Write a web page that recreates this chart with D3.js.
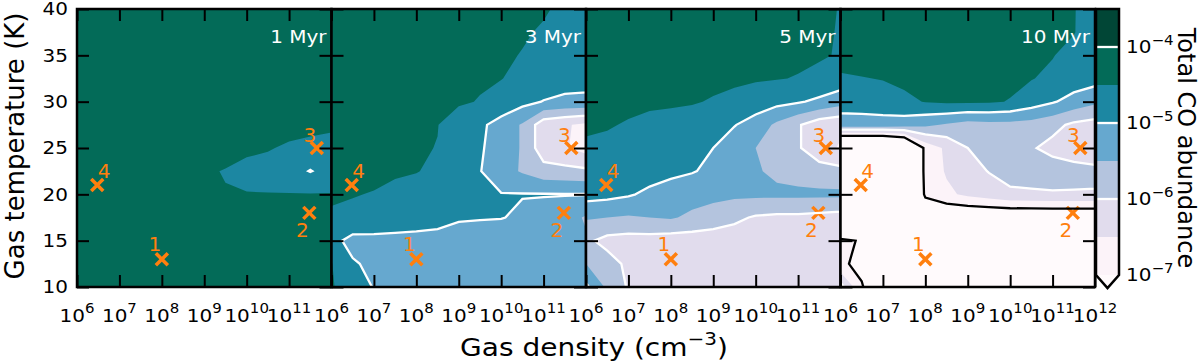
<!DOCTYPE html>
<html>

<head>
    <title>Total CO abundance maps</title>
    <script src="https://d3js.org/d3.v7.min.js"></script>
    <style>
        body { margin: 0; background: #fff; }
        text { font-family: "DejaVu Sans", sans-serif; }
    </style>
</head>

<body>
    <script type="text/javascript">

        // grid the abundance maps were read on
        var logDensity = [6, 6.5, 7, 7.5, 8, 8.5, 9, 9.5, 10, 10.5, 11, 11.5, 12];
        var gasTemp = [40, 37.5, 35, 32.5, 30, 27.5, 25, 22.5, 20, 17.5, 15, 12.5, 10];

        // log10 of total CO abundance, one row per temperature (first row = 40 K)
        var co1Myr = [
            [-4.2, -4.2, -4.2, -4.2, -4.2, -4.2, -4.2, -4.2, -4.2, -4.2, -4.2, -4.2, -4.2],
            [-4.2, -4.2, -4.2, -4.2, -4.2, -4.2, -4.2, -4.2, -4.2, -4.2, -4.2, -4.2, -4.2],
            [-4.2, -4.2, -4.2, -4.2, -4.2, -4.2, -4.2, -4.2, -4.2, -4.2, -4.2, -4.2, -4.2],
            [-4.2, -4.2, -4.2, -4.2, -4.2, -4.2, -4.2, -4.2, -4.2, -4.2, -4.2, -4.2, -4.2],
            [-4.2, -4.2, -4.2, -4.2, -4.2, -4.2, -4.2, -4.2, -4.2, -4.2, -4.2, -4.25, -4.3],
            [-4.25, -4.25, -4.25, -4.25, -4.25, -4.25, -4.25, -4.25, -4.25, -4.25, -4.25, -4.35, -4.4],
            [-4.3, -4.3, -4.3, -4.3, -4.3, -4.3, -4.35, -4.35, -4.4, -4.45, -4.6, -4.65, -4.7],
            [-4.3, -4.3, -4.3, -4.3, -4.3, -4.3, -4.45, -4.52, -4.65, -4.75, -4.8, -5.02, -4.8],
            [-4.3, -4.3, -4.3, -4.3, -4.3, -4.3, -4.4, -4.48, -4.48, -4.48, -4.48, -4.48, -4.48],
            [-4.25, -4.25, -4.25, -4.25, -4.25, -4.25, -4.25, -4.25, -4.25, -4.25, -4.25, -4.25, -4.25],
            [-4.25, -4.25, -4.25, -4.25, -4.25, -4.25, -4.25, -4.25, -4.25, -4.25, -4.25, -4.25, -4.25],
            [-4.25, -4.25, -4.25, -4.25, -4.25, -4.25, -4.25, -4.25, -4.25, -4.25, -4.25, -4.25, -4.25],
            [-4.25, -4.25, -4.25, -4.25, -4.25, -4.25, -4.25, -4.25, -4.25, -4.25, -4.25, -4.25, -4.25]
        ];
        var co3Myr = [
            [-4.2, -4.2, -4.2, -4.2, -4.2, -4.2, -4.25, -4.3, -4.35, -4.4, -4.45, -4.6, -4.7],
            [-4.2, -4.2, -4.2, -4.2, -4.2, -4.25, -4.3, -4.35, -4.4, -4.45, -4.55, -4.65, -4.75],
            [-4.2, -4.2, -4.2, -4.25, -4.25, -4.3, -4.35, -4.4, -4.43, -4.52, -4.65, -4.75, -4.8],
            [-4.2, -4.2, -4.25, -4.3, -4.3, -4.35, -4.4, -4.45, -4.49, -4.6, -4.7, -4.8, -4.85],
            [-4.25, -4.25, -4.3, -4.3, -4.35, -4.4, -4.45, -4.52, -4.65, -4.85, -5.02, -5.1, -5.1],
            [-4.3, -4.3, -4.35, -4.4, -4.45, -4.49, -4.7, -4.9, -5.2, -5.55, -6.3, -6.45, -6.6],
            [-4.3, -4.3, -4.35, -4.4, -4.46, -4.51, -4.75, -4.95, -5.2, -5.55, -6.3, -6.45, -6.7],
            [-4.35, -4.35, -4.4, -4.45, -4.48, -4.6, -4.8, -4.98, -5.3, -5.55, -5.8, -5.85, -5.9],
            [-4.45, -4.48, -4.52, -4.6, -4.7, -4.8, -4.9, -4.96, -4.98, -4.98, -4.98, -4.98, -4.98],
            [-4.55, -4.6, -4.75, -4.8, -4.85, -4.9, -4.93, -4.96, -4.98, -5.08, -5.15, -5.3, -5.55],
            [-4.85, -5.15, -5.1, -5.1, -5.1, -5.1, -5.3, -5.3, -5.3, -5.3, -5.35, -5.4, -5.45],
            [-4.48, -4.95, -5.1, -5.2, -5.25, -5.25, -5.3, -5.3, -5.3, -5.3, -5.35, -5.35, -5.4],
            [-4.45, -4.8, -5.02, -5.2, -5.25, -5.25, -5.3, -5.3, -5.3, -5.3, -5.35, -5.35, -5.4]
        ];
        var co5Myr = [
            [-4.2, -4.2, -4.2, -4.2, -4.2, -4.2, -4.2, -4.2, -4.25, -4.3, -4.35, -4.4, -4.52],
            [-4.2, -4.2, -4.2, -4.2, -4.2, -4.2, -4.2, -4.25, -4.3, -4.35, -4.4, -4.45, -4.52],
            [-4.2, -4.2, -4.2, -4.2, -4.2, -4.25, -4.3, -4.3, -4.35, -4.4, -4.42, -4.46, -4.53],
            [-4.2, -4.2, -4.25, -4.25, -4.3, -4.3, -4.35, -4.4, -4.45, -4.48, -4.52, -4.6, -4.7],
            [-4.3, -4.3, -4.35, -4.4, -4.42, -4.45, -4.55, -4.65, -4.75, -4.85, -4.95, -5.1, -5.3],
            [-4.4, -4.45, -4.55, -4.65, -4.7, -4.8, -4.9, -4.98, -5.2, -5.6, -5.95, -6.3, -6.4],
            [-4.6, -4.65, -4.7, -4.75, -4.8, -4.9, -5.0, -5.25, -5.5, -5.6, -5.95, -6.3, -6.55],
            [-4.7, -4.72, -4.75, -4.8, -4.9, -4.97, -5.1, -5.3, -5.45, -5.6, -5.7, -5.8, -5.85],
            [-4.8, -4.85, -4.95, -5.1, -5.2, -5.3, -5.35, -5.4, -5.4, -5.4, -5.4, -5.4, -5.4],
            [-5.45, -5.5, -5.55, -5.5, -5.45, -5.6, -5.75, -5.9, -6.05, -6.1, -6.1, -6.15, -6.2],
            [-5.9, -6.15, -6.2, -6.2, -6.25, -6.25, -6.25, -6.25, -6.25, -6.25, -6.3, -6.3, -6.3],
            [-5.5, -5.8, -6.1, -6.25, -6.25, -6.25, -6.25, -6.25, -6.25, -6.25, -6.3, -6.3, -6.3],
            [-4.9, -5.6, -6.05, -6.2, -6.25, -6.25, -6.25, -6.25, -6.25, -6.25, -6.3, -6.3, -6.3]
        ];
        var co10Myr = [
            [-4.2, -4.2, -4.2, -4.2, -4.2, -4.2, -4.2, -4.2, -4.2, -4.25, -4.3, -4.48, -4.7],
            [-4.2, -4.2, -4.2, -4.2, -4.2, -4.2, -4.2, -4.2, -4.25, -4.3, -4.35, -4.48, -4.75],
            [-4.35, -4.3, -4.25, -4.2, -4.2, -4.2, -4.2, -4.25, -4.3, -4.35, -4.48, -4.65, -4.8],
            [-4.55, -4.52, -4.48, -4.4, -4.35, -4.35, -4.35, -4.35, -4.4, -4.48, -4.6, -4.7, -4.8],
            [-4.8, -4.78, -4.72, -4.6, -4.48, -4.42, -4.42, -4.45, -4.52, -4.75, -4.95, -5.2, -5.4],
            [-5.2, -5.2, -5.2, -5.25, -5.4, -5.55, -5.7, -5.65, -5.65, -5.7, -5.85, -6.1, -6.2],
            [-9, -9, -9, -8.5, -6.85, -6.4, -6.0, -5.8, -5.75, -5.95, -6.15, -6.3, -6.4],
            [-9, -9, -9, -8.5, -6.85, -6.45, -6.2, -5.98, -5.8, -5.75, -5.75, -5.8, -5.85],
            [-9, -9, -9, -8.5, -6.9, -6.6, -6.4, -6.25, -6.1, -6.08, -6.05, -6.05, -6.05],
            [-7.6, -7.6, -7.6, -7.6, -7.6, -7.6, -7.6, -7.6, -7.6, -7.6, -7.6, -7.6, -7.6],
            [-6.95, -7.02, -7.6, -7.6, -7.6, -7.6, -7.6, -7.6, -7.6, -7.6, -7.6, -7.6, -7.6],
            [-6.9, -7.15, -7.6, -7.6, -7.6, -7.6, -7.6, -7.6, -7.6, -7.6, -7.6, -7.6, -7.6],
            [-5.8, -6.95, -7.6, -7.6, -7.6, -7.6, -7.6, -7.6, -7.6, -7.6, -7.6, -7.6, -7.6]
        ];
        var panelTimes = ["1 Myr", "3 Myr", "5 Myr", "10 Myr"];
        var panelMaps = [co1Myr, co3Myr, co5Myr, co10Myr];

        // contour levels (log10 abundance)
        var fillLevels = [-7, -6.5, -6, -5.5, -5, -4.5, -4, -3.5];
        var whiteLevels = [-6, -5, -4];
        var blackLevels = [-7];
        var cbTickExp = [-7, -6, -5, -4];

        // the four marked sources
        var sourceIds = ["1", "2", "3", "4"];
        var sourceDensity = [1e8, 3e11, 4.5e11, 3e6];
        var sourceTemp = [13, 18, 25, 21];

        var xTickExp = [6, 7, 8, 9, 10, 11, 12];
        var yTicks = [10, 15, 20, 25, 30, 35, 40];

        // colours of the filled bands (PuBuGn), lowest first
        var bandColors = ["#fcf3f9", "#e1dced", "#b4c4de", "#66a8cf", "#1c87a2", "#036b58", "#014636"];
        var underColor = "#fffafc";
        var orange = "#ff7f0e";

        //Set up sizes
        var plotLeft = 77, plotTop = 9;
        var panelW = 254.5, panelH = 278;
        var tickFont = 20;
        var squash = 0.88; // the text in the picture is a little flatter than the font

        var svg = d3.select("body")
            .append("svg")
            .attr("width", 1200)
            .attr("height", 363);

        function flatText(g, x, y) {
            return g.append("text")
                .attr("transform", "translate(" + x + "," + y + ") scale(1," + squash + ")");
        }

        // "10^n" label with a raised exponent
        function powerLabel(g, x, y, exp, anchor) {
            var t = flatText(g, x, y)
                .attr("text-anchor", anchor)
                .style("font-size", tickFont + "px");
            t.append("tspan").text("10");
            t.append("tspan")
                .attr("dy", -10)
                .style("font-size", "15px")
                .text(String(exp).replace("-", "\u2212"));
            return t;
        }

        var xScale = d3.scaleLog().domain([1e6, 1e12]).range([0, panelW]);
        var yScale = d3.scaleLinear().domain([10, 40]).range([panelH, 0]);

        // contour coordinates are in grid cells, sample i sits at i + 0.5
        var dLog = logDensity[1] - logDensity[0];
        var dT = gasTemp[1] - gasTemp[0];
        var gridProj = d3.geoTransform({
            point: function (x, y) {
                var ln = logDensity[0] + (x - 0.5) * dLog;
                var t = gasTemp[0] + (y - 0.5) * dT;
                this.stream.point(xScale(Math.pow(10, ln)), yScale(t));
            }
        });
        var gridPath = d3.geoPath(gridProj);

        panelMaps.forEach(function (map, p) {
            var g = svg.append("g")
                .attr("transform", "translate(" + (plotLeft + p * panelW) + "," + plotTop + ")");

            g.append("clipPath").attr("id", "clip" + p)
                .append("rect").attr("width", panelW).attr("height", panelH);

            var values = [].concat.apply([], map);
            var contourGen = d3.contours().size([logDensity.length, gasTemp.length]);

            var plot = g.append("g").attr("clip-path", "url(#clip" + p + ")");

            //below the lowest level
            plot.append("rect")
                .attr("width", panelW)
                .attr("height", panelH)
                .attr("fill", underColor);

            //filled bands
            plot.selectAll("path.band")
                .data(contourGen.thresholds(fillLevels)(values))
                .enter().append("path")
                .attr("class", "band")
                .attr("d", gridPath)
                .attr("fill", function (d, i) { return bandColors[i] || "none"; });

            // sources
            var src = plot.append("g");
            sourceIds.forEach(function (id, k) {
                src.append("path")
                    .attr("transform", "translate(" + xScale(sourceDensity[k]) + "," + yScale(sourceTemp[k]) + ")")
                    .attr("d", "M-6,-6L6,6M-6,6L6,-6")
                    .attr("stroke", orange)
                    .attr("stroke-width", 3.5)
                    .attr("fill", "none");
            });

            //contour lines
            plot.selectAll("path.white")
                .data(contourGen.thresholds(whiteLevels)(values))
                .enter().append("path")
                .attr("class", "white")
                .attr("d", gridPath)
                .attr("fill", "none")
                .attr("stroke", "#fff")
                .attr("stroke-width", 2.3);
            plot.selectAll("path.black")
                .data(contourGen.thresholds(blackLevels)(values))
                .enter().append("path")
                .attr("class", "black")
                .attr("d", gridPath)
                .attr("fill", "none")
                .attr("stroke", "#000")
                .attr("stroke-width", 2.3);

            // source numbers
            var offs = [[-7, -15], [-7, 17], [-7, -13], [7, -14]];
            sourceIds.forEach(function (id, k) {
                g.append("text")
                    .attr("x", xScale(sourceDensity[k]) + offs[k][0])
                    .attr("y", yScale(sourceTemp[k]) + offs[k][1] + 7)
                    .attr("text-anchor", "middle")
                    .attr("fill", orange)
                    .style("font-size", "20px")
                    .text(id);
            });

            // panel time
            flatText(g, panelW - 5, 34)
                .attr("text-anchor", "end")
                .attr("fill", "#fff")
                .style("font-size", "20px")
                .text(panelTimes[p]);

            // inward ticks on all four sides
            var xTickVals = xTickExp.map(function (e) { return Math.pow(10, e); });
            var axes = [
                [d3.axisBottom(xScale).tickValues(xTickVals), "translate(0," + panelH + ")"],
                [d3.axisTop(xScale).tickValues(xTickVals), "translate(0,0)"],
                [d3.axisLeft(yScale).tickValues(yTicks), "translate(0,0)"],
                [d3.axisRight(yScale).tickValues(yTicks), "translate(" + panelW + ",0)"]
            ];
            axes.forEach(function (a) {
                var ax = g.append("g")
                    .attr("transform", a[1])
                    .call(a[0].tickSize(-12).tickFormat(""));
                ax.select(".domain").remove();
                ax.selectAll("line").attr("stroke-width", 2);
            });

            //frame
            g.append("rect")
                .attr("width", panelW)
                .attr("height", panelH)
                .attr("fill", "none")
                .attr("stroke", "#000")
                .attr("stroke-width", 2.5);

            // x tick labels (the 10^12 of the first three panels is hidden by the next 10^6)
            xTickExp.forEach(function (e) {
                if (e === 12 && p < 3) return;
                powerLabel(g, xScale(Math.pow(10, e)), panelH + 35, e, "middle");
            });

            // y tick labels only on the first panel
            if (p === 0) {
                yTicks.forEach(function (v) {
                    flatText(g, -9, yScale(v) + 6.4)
                        .attr("text-anchor", "end")
                        .style("font-size", tickFont + "px")
                        .text(v);
                });
            }
        });

        //Colorbar
        var cbX = plotLeft + 4 * panelW + 1, cbW = 23, cbBottom = 275;
        var cbScale = d3.scaleLinear().domain([-7, -3.5]).range([cbBottom, plotTop]);
        var cb = svg.append("g");

        cb.append("path")
            .attr("d", "M" + cbX + "," + cbBottom + "L" + (cbX + cbW / 2) + "," + (cbBottom + 13) + "L" + (cbX + cbW) + "," + cbBottom + "Z")
            .attr("fill", underColor);
        cb.selectAll("rect.band")
            .data(d3.range(fillLevels.length - 1))
            .enter().append("rect")
            .attr("x", cbX)
            .attr("width", cbW)
            .attr("y", function (i) { return cbScale(fillLevels[i + 1]); })
            .attr("height", function (i) { return cbScale(fillLevels[i]) - cbScale(fillLevels[i + 1]); })
            .attr("fill", function (i) { return bandColors[i]; });
        whiteLevels.forEach(function (v) {
            cb.append("line")
                .attr("x1", cbX).attr("x2", cbX + cbW)
                .attr("y1", cbScale(v)).attr("y2", cbScale(v))
                .attr("stroke", "#fff")
                .attr("stroke-width", 2.3);
        });
        cb.append("path")
            .attr("d", "M" + cbX + "," + plotTop + "H" + (cbX + cbW) + "V" + cbBottom + "L" + (cbX + cbW / 2) + "," + (cbBottom + 13) + "L" + cbX + "," + cbBottom + "Z")
            .attr("fill", "none")
            .attr("stroke", "#000")
            .attr("stroke-width", 2.5);
        cbTickExp.forEach(function (e) {
            powerLabel(cb, cbX + cbW + 7, cbScale(e) + 6.4, e, "start");
        });

        // axis titles
        var xt = flatText(svg, 594, 356)
            .attr("text-anchor", "middle")
            .style("font-size", "28px");
        xt.append("tspan").text("Gas density (cm");
        xt.append("tspan").attr("dy", -13).style("font-size", "20px").text("\u22123");
        xt.append("tspan").attr("dy", 13).text(")");

        svg.append("text")
            .attr("transform", "translate(24," + (plotTop + panelH / 2 - 2) + ") rotate(-90)")
            .attr("text-anchor", "middle")
            .style("font-size", "26px")
            .text("Gas temperature (K)");

        svg.append("text")
            .attr("transform", "translate(1178," + (plotTop + panelH / 2) + ") rotate(90)")
            .attr("text-anchor", "middle")
            .style("font-size", "24px")
            .text("Total CO abundance");

    </script>
</body>

</html>
